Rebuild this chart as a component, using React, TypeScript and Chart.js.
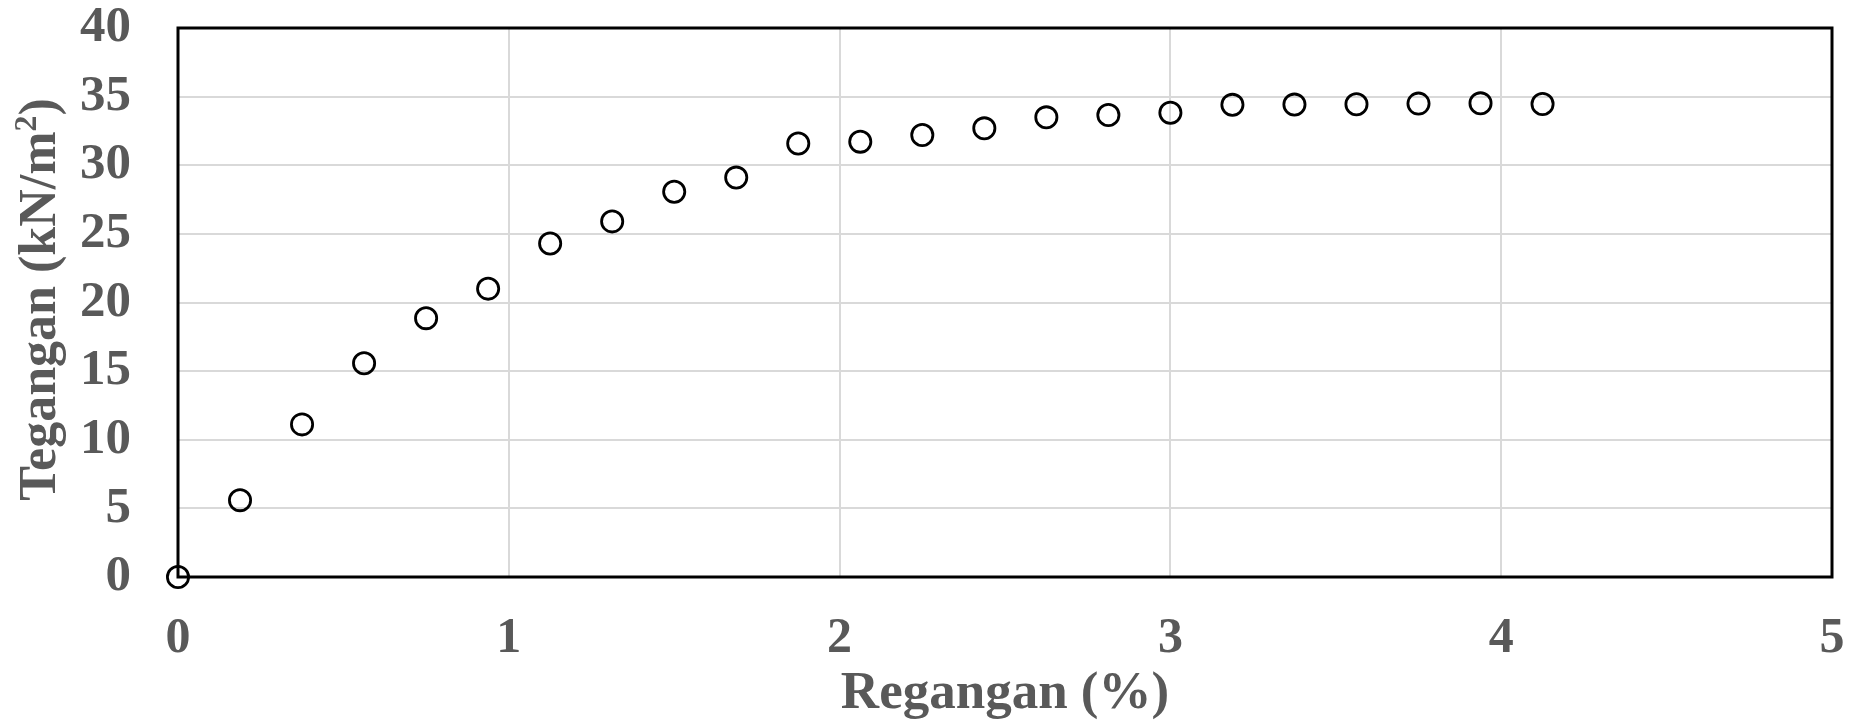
import React, { useEffect, useRef } from "react";
import { Chart, registerables } from "chart.js";

Chart.register(...registerables);

const strainPct: number[] = [
  0, 0.1875, 0.375, 0.5625, 0.75, 0.9375, 1.125, 1.3125, 1.5, 1.6875, 1.875,
  2.0625, 2.25, 2.4375, 2.625, 2.8125, 3.0, 3.1875, 3.375, 3.5625, 3.75, 3.9375, 4.125,
];
const stress: number[] = [
  0, 5.6, 11.12, 15.57, 18.86, 21.01, 24.3, 25.91, 28.07, 29.1, 31.58,
  31.72, 32.2, 32.69, 33.49, 33.66, 33.83, 34.4, 34.42, 34.44, 34.49, 34.51, 34.46,
];
const xTitle = "Regangan (%)";
const yTitleMain = "Tegangan (kN/m";
const yTitleSup = "2";
const yTitleEnd = ")";

const FONT = "'Liberation Serif', 'Times New Roman', serif";
const GREY = "#595959";

const framePlugin = {
  id: "frame",
  beforeDatasetsDraw(chart: any) {
    const { ctx, chartArea } = chart;
    ctx.save();
    ctx.strokeStyle = "#000000";
    ctx.lineWidth = 3;
    ctx.strokeRect(chartArea.left, chartArea.top, chartArea.right - chartArea.left, chartArea.bottom - chartArea.top);
    ctx.restore();
  },
};

const yTitlePlugin = {
  id: "yTitle",
  afterDraw(chart: any) {
    const { ctx, chartArea } = chart;
    const main = `bold 52px ${FONT}`;
    const sup = `bold 32px ${FONT}`;
    ctx.save();
    ctx.font = main;
    const w1 = ctx.measureText(yTitleMain).width;
    const w3 = ctx.measureText(yTitleEnd).width;
    ctx.font = sup;
    const w2 = ctx.measureText(yTitleSup).width;
    const total = w1 + w2 + w3;
    const cy = (chartArea.top + chartArea.bottom) / 2 - 3;
    ctx.translate(55, cy);
    ctx.rotate(-Math.PI / 2);
    ctx.fillStyle = GREY;
    ctx.textBaseline = "alphabetic";
    ctx.textAlign = "left";
    let x = -total / 2;
    ctx.font = main;
    ctx.fillText(yTitleMain, x, 0);
    x += w1;
    ctx.font = sup;
    ctx.fillText(yTitleSup, x, -19);
    x += w2;
    ctx.font = main;
    ctx.fillText(yTitleEnd, x, 0);
    ctx.restore();
  },
};

export default function App() {
  const ref = useRef<HTMLCanvasElement | null>(null);
  useEffect(() => {
    if (!ref.current) return;
    const chart = new Chart(ref.current, {
      type: "scatter",
      data: {
        datasets: [
          {
            data: strainPct.map((x, i) => ({ x, y: stress[i] })),
            pointRadius: 10.6,
            pointHoverRadius: 10.6,
            pointBorderWidth: 2.8,
            pointBorderColor: "#000000",
            pointBackgroundColor: "rgba(255,255,255,0)",
            showLine: false,
            clip: false,
          } as any,
        ],
      },
      options: {
        animation: false,
        responsive: false,
        maintainAspectRatio: false,
        layout: { padding: { left: 0, top: 28, right: 38, bottom: 0 } },
        plugins: { legend: { display: false }, tooltip: { enabled: false } },
        scales: {
          x: {
            type: "linear",
            min: 0,
            max: 5,
            afterFit: (s: any) => { s.height = 148; s.paddingLeft = 0; s.paddingRight = 0; },
            ticks: { stepSize: 1, padding: 32, color: GREY, font: { family: FONT, size: 50, weight: "bold" } },
            grid: { color: "#d9d9d9", lineWidth: 2, drawTicks: false, tickLength: 0 },
            border: { display: false },
            title: {
              display: true,
              text: xTitle,
              color: GREY,
              font: { family: FONT, size: 53, weight: "bold", lineHeight: 1 },
              padding: { top: 0, bottom: 4 },
            },
          },
          y: {
            type: "linear",
            min: 0,
            max: 40,
            afterFit: (s: any) => { s.width = 178; s.paddingTop = 0; s.paddingBottom = 0; },
            ticks: { stepSize: 5, padding: 47, color: GREY, font: { family: FONT, size: 51, weight: "bold" } },
            grid: { color: "#d9d9d9", lineWidth: 2, drawTicks: false, tickLength: 0 },
            border: { display: false },
            title: { display: false },
          },
        },
      },
      plugins: [framePlugin, yTitlePlugin],
    });
    return () => chart.destroy();
  }, []);
  return (
    <div style={{ position: "absolute", left: 0, top: 0, width: 1870, height: 725, background: "#fff" }}>
      <canvas ref={ref} width={1870} height={725} style={{ display: "block", width: 1870, height: 725 }} />
    </div>
  );
}
